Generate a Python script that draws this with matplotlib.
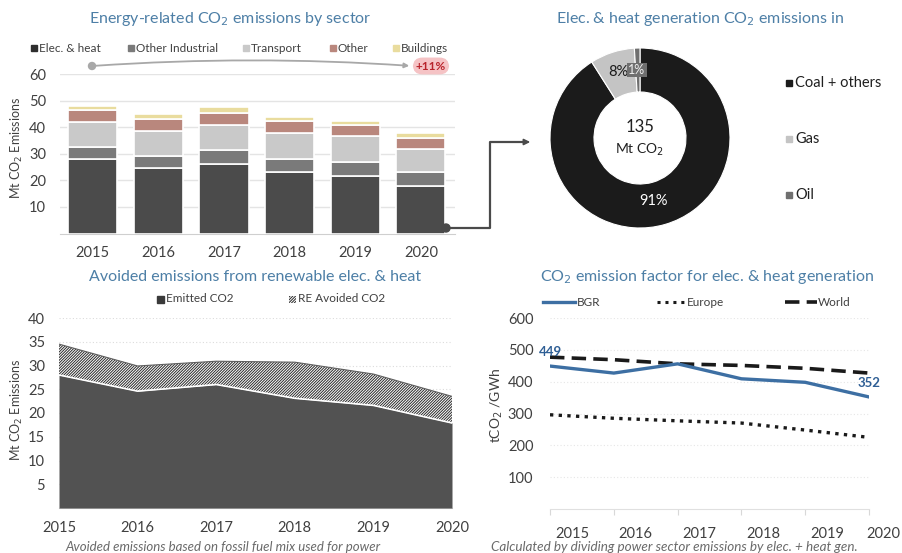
import matplotlib
matplotlib.use("Agg")
import matplotlib.pyplot as plt
from matplotlib.patches import Rectangle, FancyArrowPatch, Ellipse
from matplotlib.lines import Line2D
from matplotlib.transforms import ScaledTranslation

plt.rcParams['font.family'] = ['Lato', 'DejaVu Sans']
plt.rcParams['hatch.linewidth'] = 0.7

# ---------------- data ----------------
years = [2015, 2016, 2017, 2018, 2019, 2020]
year_labels = [str(y) for y in years]

sector_names = ["Elec. & heat", "Other Industrial", "Transport", "Other", "Buildings"]
elec_heat = [28.0, 24.6, 26.0, 23.1, 21.6, 17.9]
other_industrial = [4.5, 4.6, 5.4, 5.0, 5.3, 5.1]
transport = [9.3, 9.4, 9.6, 9.6, 9.7, 8.7]
other = [4.5, 4.5, 4.5, 4.5, 4.1, 4.3]
buildings = [1.8, 2.0, 1.9, 1.8, 1.6, 1.7]
change_label = "+11%"

fuel_names = ["Coal + others", "Gas", "Oil"]
fuel_share = [91, 8, 1]
fuel_total = "135"

emitted = [28.0, 24.6, 26.0, 23.1, 21.6, 17.9]
avoided = [6.5, 5.3, 4.9, 7.6, 6.6, 5.6]

bgr = [449, 427, 456, 409, 398, 352]
europe = [296, 285, 277, 270, 248, 225]
world = [477, 469, 456, 451, 442, 427]

# ---------------- style ----------------
W, H = 903, 553
TITLE = '#4d7fa6'
TXT = '#404040'
GRID = '#e4e4e4'
sector_colors = ['#4b4b4b', '#7a7a7a', '#c9c9c9', '#b9877d', '#e9dc9e']
fuel_colors = ['#1b1b1b', '#c4c4c4', '#6f6f6f']
HATCH = '/' * 12


def fx(x):
    return x / W


def fy(y):
    return 1 - y / H


def axes_px(fig, x0, y0, x1, y1):
    return fig.add_axes([fx(x0), fy(y1), fx(x1) - fx(x0), fy(y0) - fy(y1)])


def style_axis(ax, size=10):
    for s in ax.spines.values():
        s.set_visible(False)
    ax.tick_params(axis='both', length=0, labelsize=size, labelcolor=TXT)


def square(fig, x, y, size, **kw):
    fig.patches.append(Rectangle((fx(x), fy(y + size / 2)), fx(size), size / H,
                                 transform=fig.transFigure, **kw))


fig = plt.figure(figsize=(W / 100, H / 100), dpi=100)
fig.patch.set_facecolor('white')

# ============ stacked bars: emissions by sector ============
ax1 = axes_px(fig, 60, 74, 455, 233.5)
x = list(range(len(years)))
bottom = [0.0] * len(years)
for name, vals, col in zip(sector_names,
                           [elec_heat, other_industrial, transport, other, buildings],
                           sector_colors):
    ax1.bar(x, vals, bottom=bottom, width=0.75, color=col, edgecolor='white',
            linewidth=1.2, zorder=3)
    bottom = [b + v for b, v in zip(bottom, vals)]
ax1.set_xlim(-0.5, 5.52)
ax1.set_ylim(0, 60)
ax1.set_yticks([10, 20, 30, 40, 50, 60])
ax1.set_xticks(x, year_labels)
ax1.yaxis.grid(True, color=GRID, linewidth=1)
ax1.set_axisbelow(True)
style_axis(ax1, 10.5)
ax1.tick_params(axis='y', pad=10)
ax1.tick_params(axis='x', pad=9)
ax1.spines['bottom'].set_visible(True)
ax1.spines['bottom'].set_color('#cfcfcf')
fig.text(fx(17), fy(148), "Mt CO$_2$ Emissions", rotation=90, ha='center', va='center',
         fontsize=9, color=TXT)
fig.text(fx(230), fy(19), "Energy-related CO$_2$ emissions by sector", ha='center',
         va='center', fontsize=11.5, color=TITLE)

# legend row
leg_x = [31, 128, 243, 330, 393]
for lx, name, col in zip(leg_x, sector_names, sector_colors):
    square(fig, lx, 48, 6, color=col if col != '#4b4b4b' else '#2e2e2e')
    fig.text(fx(lx + 8), fy(48), name, ha='left', va='center', fontsize=8.5, color=TXT)

# trend arrow with change badge
fig.patches.append(FancyArrowPatch((fx(92), fy(66)), (fx(412), fy(66)),
                                   transform=fig.transFigure,
                                   connectionstyle="arc3,rad=-0.035", arrowstyle='-|>',
                                   mutation_scale=7, color='#a8a8a8', linewidth=1.3))
fig.patches.append(Ellipse((fx(92), fy(66)), fx(7), 7 / H, transform=fig.transFigure,
                           color='#a8a8a8'))
fig.text(fx(431), fy(66), change_label, ha='center', va='center', fontsize=8.5,
         color='#b8232b', fontweight='bold',
         bbox=dict(boxstyle='round,pad=0.25,rounding_size=0.8', fc='#f5c3c5', ec='none'))

# connector from 2020 bar to donut
fig.lines.append(Line2D([fx(446), fx(490), fx(490), fx(526)],
                        [fy(228), fy(228), fy(142), fy(142)],
                        transform=fig.transFigure, color='#4a4a4a', linewidth=1.6))
fig.patches.append(FancyArrowPatch((fx(522), fy(142)), (fx(533), fy(142)),
                                   transform=fig.transFigure, arrowstyle='-|>',
                                   mutation_scale=9, color='#4a4a4a', linewidth=1.2))
fig.patches.append(Ellipse((fx(446), fy(228)), fx(8), 8 / H, transform=fig.transFigure,
                           color='#4a4a4a'))

# ============ donut: elec & heat by fuel ============
axd = axes_px(fig, 540, 38, 740, 238)
axd.pie(fuel_share, colors=fuel_colors, startangle=90, counterclock=False, radius=0.9,
        wedgeprops=dict(width=0.44, edgecolor='white', linewidth=0.8))
axd.set_xlim(-1, 1)
axd.set_ylim(-1, 1)
axd.set_aspect('equal')
axd.axis('off')
axd.text(0, 0.11, fuel_total, ha='center', va='center', fontsize=12, color='#202020')
axd.text(0, -0.12, "Mt CO$_2$", ha='center', va='center', fontsize=10, color='#202020')
axd.text(0.13, -0.63, f"{fuel_share[0]}%", ha='center', va='center', fontsize=10.5,
         color='white')
axd.text(-0.22, 0.66, f"{fuel_share[1]}%", ha='center', va='center', fontsize=10.5,
         color='#1a1a1a')
axd.text(-0.03, 0.68, f"{fuel_share[2]}%", ha='center', va='center', fontsize=9,
         color='#f0f0f0', bbox=dict(boxstyle='square,pad=0.1', fc='#6f6f6f', ec='none'))
fig.text(fx(700), fy(19), "Elec. & heat generation CO$_2$ emissions in", ha='center',
         va='center', fontsize=11.5, color=TITLE)
for ly, name, col in zip([83, 139, 195], fuel_names, fuel_colors):
    square(fig, 786, ly, 6, color=col)
    fig.text(fx(795), fy(ly), name, ha='left', va='center', fontsize=10.5, color='#202020')

# ============ area: avoided emissions ============
ax3 = axes_px(fig, 59, 318, 452, 508)
total = [e + a for e, a in zip(emitted, avoided)]
ax3.fill_between(years, 0, emitted, color='#525252', linewidth=0, zorder=3)
ax3.fill_between(years, emitted, total, facecolor='white', edgecolor='#2a2a2a',
                 hatch=HATCH, linewidth=0, zorder=3)
ax3.plot(years, emitted, color='white', linewidth=1.2, zorder=4)
ax3.plot(years, total, color='#606060', linewidth=0.8, zorder=4)
ax3.set_xlim(2015, 2020)
ax3.set_ylim(0, 40)
ax3.set_yticks([5, 10, 15, 20, 25, 30, 35, 40])
ax3.set_xticks(years, year_labels)
ax3.yaxis.grid(True, color='#dcdcdc', linewidth=0.8, linestyle=(0, (1, 2)))
ax3.set_axisbelow(True)
style_axis(ax3, 10.5)
ax3.tick_params(axis='y', pad=10)
ax3.tick_params(axis='x', pad=9)
ax3.spines['bottom'].set_visible(True)
ax3.spines['bottom'].set_color('#cfcfcf')
fig.text(fx(17), fy(410), "Mt CO$_2$ Emissions", rotation=90, ha='center', va='center',
         fontsize=9, color=TXT)
fig.text(fx(255), fy(277), "Avoided emissions from renewable elec. & heat", ha='center',
         va='center', fontsize=11.5, color=TITLE)
square(fig, 157, 299, 7, color='#3a3a3a')
fig.text(fx(166), fy(299), "Emitted CO2", ha='left', va='center', fontsize=8.5, color=TXT)
square(fig, 289, 299, 7, facecolor='white', edgecolor='#2a2a2a', hatch=HATCH, linewidth=0)
fig.text(fx(298), fy(299), "RE Avoided CO2", ha='left', va='center', fontsize=8.5, color=TXT)
fig.text(fx(223), fy(547), "Avoided emissions based on fossil fuel mix used for power",
         ha='center', va='center', fontsize=9.5, color='#6a6a6a', style='italic')

# ============ lines: emission factor ============
ax4 = axes_px(fig, 550, 318, 869, 509)
ax4.plot(years, bgr, color='#3d6fa3', linewidth=2.4, zorder=4)
ax4.plot(years, europe, color='#1a1a1a', linewidth=2.4, linestyle=(0, (1, 1.6)), zorder=3)
ax4.plot(years, world, color='#1a1a1a', linewidth=2.6, linestyle=(0, (4, 2)), zorder=3)
ax4.set_xlim(2015, 2020)
ax4.set_ylim(0, 600)
ax4.set_yticks([100, 200, 300, 400, 500, 600])
ax4.set_xticks(years, year_labels)
ax4.yaxis.grid(True, color='#e6e6e6', linewidth=0.8, linestyle=(0, (1, 2)))
ax4.set_axisbelow(True)
style_axis(ax4, 10.5)
ax4.tick_params(axis='y', pad=12)
ax4.tick_params(axis='x', pad=9, length=4, color='#d8d8d8', direction='out')
ax4.spines['bottom'].set_visible(True)
ax4.spines['bottom'].set_color('#e0e0e0')
for lab, off in zip(ax4.get_xticklabels(), [22, 22, 22, 22, 22, 14]):
    lab.set_transform(lab.get_transform() + ScaledTranslation(off / 100, 0, fig.dpi_scale_trans))
ax4.annotate(str(bgr[0]), (years[0], bgr[0]), xytext=(0, 10), textcoords='offset points',
             ha='center', va='center', fontsize=9.5, color='#2f5f95', fontweight='bold',
             annotation_clip=False)
ax4.annotate(str(bgr[-1]), (years[-1], bgr[-1]), xytext=(0, 10), textcoords='offset points',
             ha='center', va='center', fontsize=9.5, color='#2f5f95', fontweight='bold',
             annotation_clip=False)
fig.text(fx(497), fy(405), "tCO$_2$ /GWh", rotation=90, ha='center', va='center',
         fontsize=10, color=TXT)
fig.text(fx(707), fy(277), "CO$_2$ emission factor for elec. & heat generation", ha='center',
         va='center', fontsize=11.5, color=TITLE)
fig.lines.append(Line2D([fx(543), fx(575)], [fy(302)] * 2, transform=fig.transFigure,
                        color='#3d6fa3', linewidth=2.4))
fig.text(fx(577), fy(302), "BGR", ha='left', va='center', fontsize=8.5, color=TXT)
fig.lines.append(Line2D([fx(657), fx(685)], [fy(302)] * 2, transform=fig.transFigure,
                        color='#1a1a1a', linewidth=2.2, linestyle=(0, (1, 1.6))))
fig.text(fx(687), fy(302), "Europe", ha='left', va='center', fontsize=8.5, color=TXT)
fig.lines.append(Line2D([fx(785), fx(817)], [fy(302)] * 2, transform=fig.transFigure,
                        color='#1a1a1a', linewidth=2.6, linestyle=(0, (4, 2))))
fig.text(fx(818), fy(302), "World", ha='left', va='center', fontsize=8.5, color=TXT)
fig.text(fx(674), fy(547), "Calculated by dividing power sector emissions by elec. + heat gen.",
         ha='center', va='center', fontsize=9.7, color='#6a6a6a', style='italic')

fig.savefig("out.png", dpi=100, facecolor='white')
